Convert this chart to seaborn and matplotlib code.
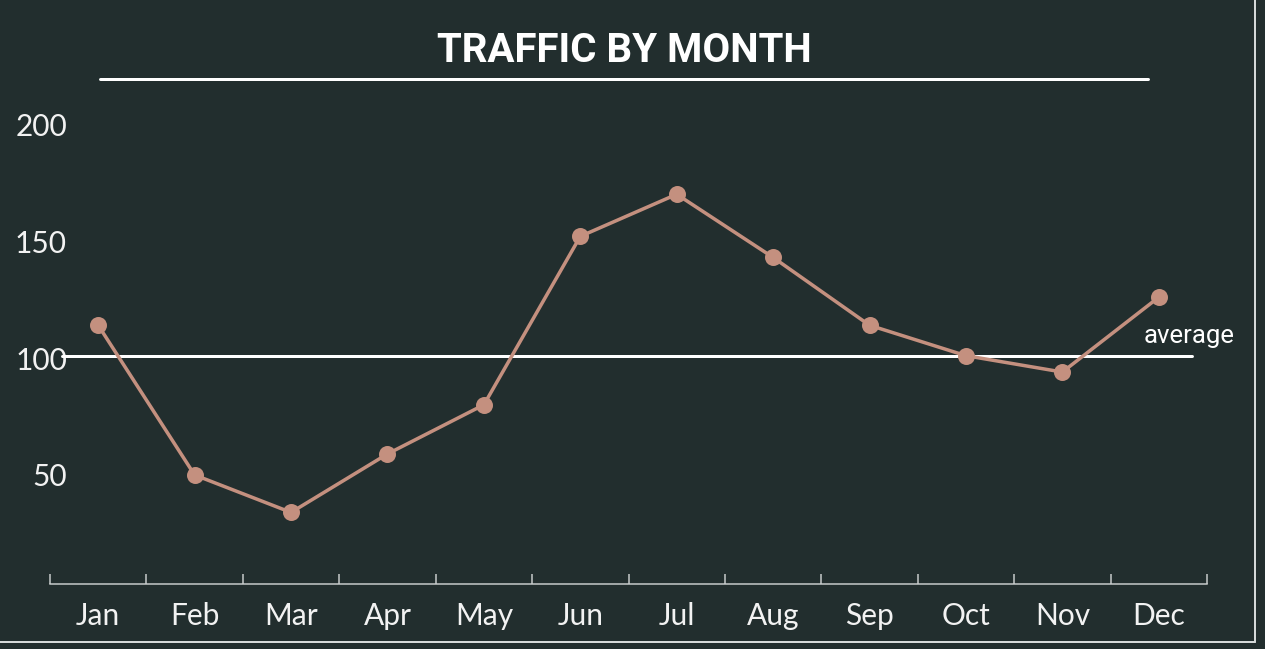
import matplotlib
matplotlib.use("Agg")
import matplotlib.pyplot as plt
import pandas as pd
import seaborn as sns
from matplotlib.lines import Line2D
from matplotlib.ticker import FixedLocator

# ---------------------------------------------------------------------------
# Data
# ---------------------------------------------------------------------------

MONTHS = ["Jan", "Feb", "Mar", "Apr", "May", "Jun",
          "Jul", "Aug", "Sep", "Oct", "Nov", "Dec"]
TRAFFIC = [114, 50, 34, 59, 80, 152, 170, 143, 114, 101, 94, 126]
AVERAGE = 101
Y_TICKS = [50, 100, 150, 200]
TITLE = "TRAFFIC BY MONTH"

# ---------------------------------------------------------------------------
# Style
# ---------------------------------------------------------------------------

BG = "#222e2e"
LINE_COLOR = "#c4907f"
TEXT_COLOR = "#f2f2f2"
AXIS_COLOR = "#c9cdcd"
BORDER_COLOR = "#d5d9d9"

W, H, DPI = 1265, 649, 100
PX = 72 / DPI  # points per pixel

sns.set_theme(style="dark")
plt.rcParams["font.family"] = ["Lato", "DejaVu Sans"]

df = pd.DataFrame({"month": MONTHS, "traffic": TRAFFIC})

fig = plt.figure(figsize=(W / DPI, H / DPI), dpi=DPI, facecolor=BG)
ax = fig.add_axes([50 / W, (H - 584) / H, 1157 / W, (584 - 89) / H])
ax.set_facecolor(BG)

sns.lineplot(data=df, x="month", y="traffic", ax=ax, color=LINE_COLOR,
             linewidth=3.5 * PX, marker="o", markersize=17 * PX,
             markeredgewidth=0, sort=False, clip_on=False)

ax.axhline(AVERAGE, xmin=12 / 1157, xmax=1142 / 1157, color="white",
           linewidth=3 * PX, zorder=1)
ax.text(10.84, AVERAGE + 5.5, "average", color="white", fontsize=18.5,
        family=["Roboto", "DejaVu Sans"], va="baseline", ha="left")

ax.set_xlim(-0.5, len(MONTHS) - 0.5)
ax.set_ylim(3.4, 215)
ax.set_xlabel("")
ax.set_ylabel("")
ax.grid(False)

for side in ["top", "left", "right"]:
    ax.spines[side].set_visible(False)
ax.spines["bottom"].set_color(AXIS_COLOR)
ax.spines["bottom"].set_linewidth(1.5 * PX)

ax.xaxis.set_minor_locator(FixedLocator([i - 0.5 for i in range(len(MONTHS) + 1)]))
ax.tick_params(axis="x", which="minor", direction="in", length=10 * PX,
               width=1.5 * PX, color=AXIS_COLOR, bottom=True)
ax.tick_params(axis="x", which="major", length=0, pad=13,
               labelsize=21.5, labelcolor=TEXT_COLOR)
ax.set_yticks(Y_TICKS)
ax.tick_params(axis="y", length=0, pad=-17 * PX, labelsize=21.5,
               labelcolor=TEXT_COLOR)

# title and underline
fig.text(624 / W, 1 - 62 / H, TITLE, color="white", fontsize=29,
         fontweight="bold", family=["Roboto", "DejaVu Sans"],
         ha="center", va="baseline")
fig.add_artist(Line2D([100 / W, 1148 / W], [1 - 79 / H] * 2,
                      color="white", linewidth=3 * PX))

# frame on the right and bottom
fig.add_artist(Line2D([1255 / W, 1255 / W], [1 - 642 / H, 1],
                      color=BORDER_COLOR, linewidth=2 * PX))
fig.add_artist(Line2D([0, 1255 / W], [1 - 642 / H] * 2,
                      color=BORDER_COLOR, linewidth=2 * PX))

fig.savefig("out.png", dpi=DPI, facecolor=BG)
